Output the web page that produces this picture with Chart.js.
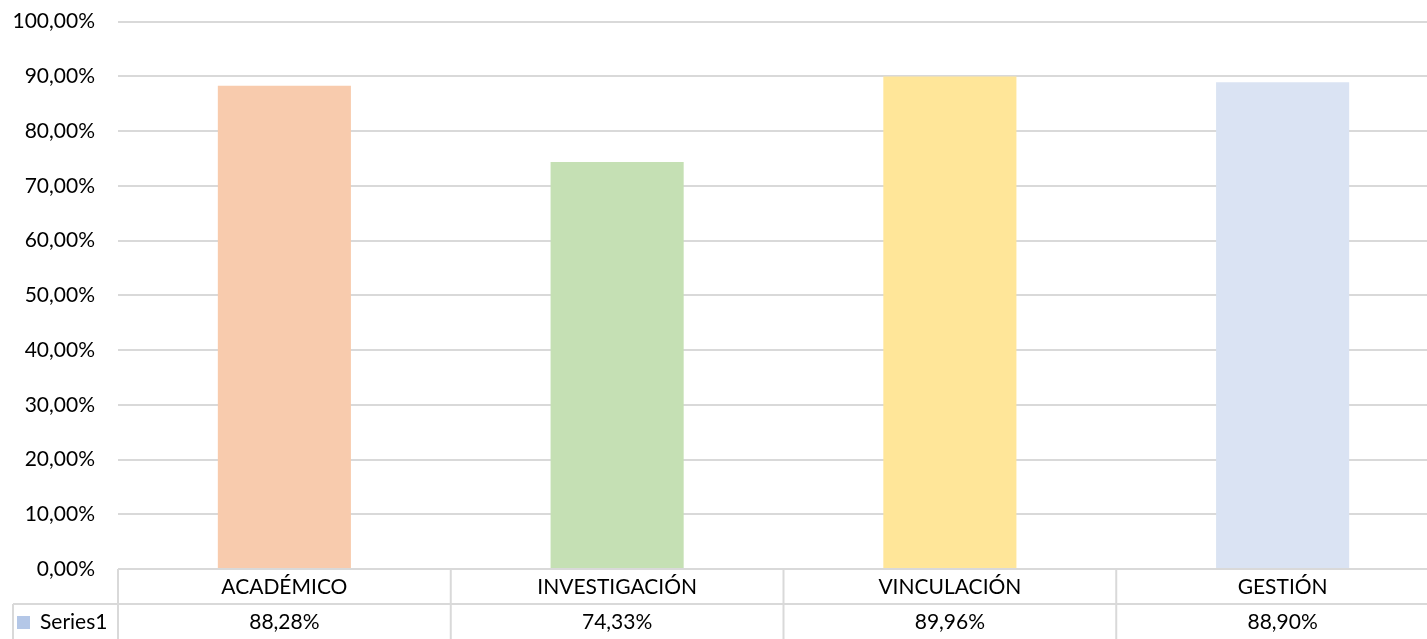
<!DOCTYPE html>
<html>
<head>
<meta charset="utf-8">
<script src="https://cdn.jsdelivr.net/npm/chart.js@4"></script>
<style>
  html, body { margin: 0; padding: 0; background: #ffffff; overflow: hidden; }
  #wrap { width: 1427px; height: 639px; overflow: hidden; position: relative; }
  #box { width: 1449px; height: 653px; position: absolute; left: 0; top: -14px; }
</style>
</head>
<body>
<div id="wrap"><div id="box"><canvas id="grafico"></canvas></div></div>
<script>
// Datos del gráfico
const categorias = ['ACADÉMICO', 'INVESTIGACIÓN', 'VINCULACIÓN', 'GESTIÓN'];
const valores = [88.28, 74.33, 89.96, 88.90];
const colores = ['#F8CBAD', '#C5E0B4', '#FFE699', '#DAE3F3'];
const nombreSerie = 'Series1';
const colorLeyenda = '#B4C7E7';

const FUENTE = 'Lato, "Open Sans", sans-serif';
const LINEA = '#d9d9d9';

function fmt(v) {
    return v.toFixed(2).replace('.', ',') + '%';
}

// Tabla de datos bajo el eje (estilo Excel)
const tablaDatos = {
    id: 'tablaDatos',
    afterDraw(chart) {
        const ctx = chart.ctx;
        const area = chart.chartArea;
        const x = chart.scales.x;
        const fila1 = area.bottom;
        const fila2 = fila1 + 35;
        const fin = fila2 + 40;
        const izq = 13;
        const paso = x.getPixelForValue(1) - x.getPixelForValue(0);

        ctx.save();
        ctx.strokeStyle = LINEA;
        ctx.lineWidth = 2;
        ctx.beginPath();
        // líneas horizontales
        ctx.moveTo(area.left, fila1); ctx.lineTo(area.right, fila1);
        ctx.moveTo(izq, fila2); ctx.lineTo(area.right, fila2);
        // borde izquierdo de la leyenda
        ctx.moveTo(izq, fila2); ctx.lineTo(izq, fin);
        // separadores de categorías
        for (let i = 0; i <= categorias.length; i++) {
            const px = x.getPixelForValue(i) - paso / 2;
            ctx.moveTo(px, fila1); ctx.lineTo(px, fin);
        }
        ctx.stroke();

        ctx.fillStyle = '#000000';
        ctx.font = '21px ' + FUENTE;
        ctx.textAlign = 'center';
        ctx.textBaseline = 'middle';
        categorias.forEach((c, i) => {
            const px = x.getPixelForValue(i);
            ctx.fillText(c, px, fila1 + 18);
            ctx.fillText(fmt(valores[i]), px, fila2 + 18);
        });

        // leyenda de la serie
        ctx.fillStyle = colorLeyenda;
        ctx.fillRect(17, fila2 + 12, 13, 13);
        ctx.fillStyle = '#000000';
        ctx.textAlign = 'left';
        ctx.fillText(nombreSerie, 40, fila2 + 18);
        ctx.restore();
    }
};

new Chart(document.getElementById('grafico').getContext('2d'), {
    type: 'bar',
    data: {
        labels: categorias,
        datasets: [{
            label: nombreSerie,
            data: valores,
            backgroundColor: colores,
            borderWidth: 0,
            categoryPercentage: 1,
            barPercentage: 0.4
        }]
    },
    options: {
        responsive: true,
        maintainAspectRatio: false,
        animation: false,
        layout: { padding: { top: 0, bottom: 70, left: 0, right: 0 } },
        plugins: {
            legend: { display: false },
            tooltip: { enabled: false }
        },
        scales: {
            x: {
                grid: { display: false, drawTicks: false },
                border: { display: false },
                ticks: { display: false }
            },
            y: {
                min: 0,
                max: 100,
                afterFit(scale) { scale.width = 118; },
                grid: { color: LINEA, lineWidth: 2, drawTicks: false },
                border: { display: false },
                ticks: {
                    stepSize: 10,
                    padding: 23,
                    color: '#000000',
                    font: { family: FUENTE, size: 21 },
                    callback: v => fmt(v)
                }
            }
        }
    },
    plugins: [tablaDatos]
});
</script>
</body>
</html>
